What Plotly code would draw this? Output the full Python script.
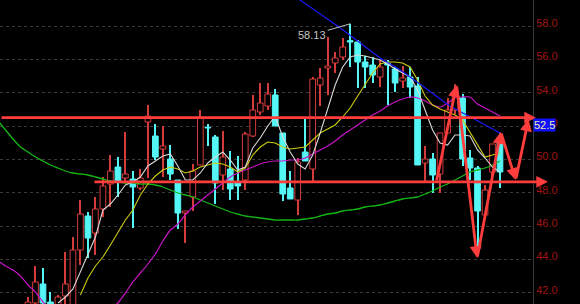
import plotly.graph_objects as go

# ---------------- data ----------------
candle_idx = list(range(64))
opens = [41.2, 41.38, 42.52, 41.44, 41.2, 41.8, 41.2, 44.56, 46.6, 45.58,
         47.02, 48.52, 49.54, 48.88, 48.82, 48.28, 52.24, 51.4, 50.62, 50.02,
         48.76, 46.78, 47.74, 49.66, 51.92, 51.34, 49.06, 49.42, 48.58, 48.76,
         51.4, 52.84, 53.2, 53.86, 51.58, 48.28, 47.56, 50.44, 49.42, 54.46,
         55.48, 55.78, 56.14, 57.12, 57.04, 55.84, 55.66, 54.94, 55.78, 55.42,
         54.7, 54.94, 54.4, 49.78, 50.02, 49.12, 51.58, 52.96, 53.68, 50.08,
         49.48, 46.66, 49.24, 51.04]
highs = [41.74, 43.6, 43.48, 42.04, 41.86, 44.44, 45.34, 47.56, 46.84, 47.74,
         48.94, 50.26, 50.14, 51.64, 49.3, 49.42, 53.26, 52.12, 52.0, 50.86,
         48.76, 46.9, 49.72, 52.96, 52.12, 51.46, 51.7, 50.5, 50.2, 51.64,
         53.86, 54.58, 54.58, 54.22, 51.58, 49.3, 50.08, 52.48, 54.94, 55.48,
         57.34, 56.44, 57.28, 58.13, 57.16, 56.2, 56.14, 55.96, 55.96, 55.54,
         55.6, 55.54, 54.94, 50.8, 50.38, 51.58, 53.68, 54.5, 53.92, 50.56,
         49.6, 48.46, 50.92, 51.58]
lows = [41.02, 41.2, 41.3, 41.1, 41.0, 41.32, 41.0, 43.66, 44.08, 44.26,
        46.54, 47.14, 47.74, 48.7, 45.88, 48.16, 48.88, 49.96, 48.94, 48.76,
        45.82, 44.98, 46.9, 49.66, 50.8, 47.32, 48.16, 47.56, 47.56, 48.16,
        51.34, 52.66, 52.96, 52.0, 47.5, 47.62, 46.66, 49.9, 48.64, 53.2,
        53.86, 55.18, 55.96, 55.54, 54.28, 54.28, 54.58, 54.34, 53.26, 54.04,
        54.28, 53.68, 49.66, 48.64, 47.98, 47.98, 51.58, 52.7, 49.6, 48.76,
        44.56, 46.66, 48.64, 48.28]
closes = [41.44, 42.64, 41.38, 41.26, 41.74, 42.52, 44.56, 46.72, 45.28, 47.02,
          48.4, 49.3, 48.64, 49.12, 48.34, 48.88, 52.6, 50.14, 50.8, 49.12,
          46.78, 46.9, 49.3, 52.54, 51.88, 48.58, 50.14, 48.22, 48.4, 51.52,
          52.96, 53.38, 53.92, 52.0, 47.92, 47.62, 49.84, 49.9, 54.82, 54.88,
          55.6, 56.08, 56.74, 57.04, 55.84, 55.54, 55.06, 55.54, 55.66, 54.58,
          54.88, 54.34, 49.66, 50.02, 49.06, 51.58, 52.96, 54.0, 50.02, 49.48,
          46.9, 48.16, 50.92, 49.24]

ma_white_x = list(range(4, 64))
ma_white = [41.38, 41.74, 42.22, 43.24, 44.26, 45.34, 46.96, 47.32, 47.86, 48.46,
            48.64, 48.94, 49.6, 49.9, 50.2, 50.32, 49.6, 48.76, 48.76, 49.18,
            49.78, 50.14, 50.44, 49.96, 49.36, 49.54, 50.68, 51.28, 52.0, 52.6,
            51.34, 50.44, 49.72, 49.42, 50.26, 51.58, 52.96, 54.46, 55.54, 56.14,
            56.26, 56.2, 56.08, 55.96, 55.72, 55.42, 55.18, 54.94, 54.16, 52.96,
            51.76, 50.98, 50.86, 51.46, 51.46, 51.4, 50.56, 50.08, 49.54, 49.24]

ma_yellow_x = list(range(7, 64))
ma_yellow = [41.86, 42.88, 43.6, 44.14, 44.86, 45.64, 46.36, 46.96, 47.86, 48.52,
             49.0, 49.36, 49.54, 49.42, 49.18, 49.3, 49.54, 49.66, 49.78, 49.72,
             49.54, 49.24, 49.48, 50.26, 50.74, 51.04, 50.98, 50.74, 50.62, 50.68,
             50.74, 51.16, 51.58, 51.82, 52.06, 52.54, 53.08, 53.8, 54.46, 55.18,
             55.72, 55.84, 55.84, 55.78, 55.54, 54.76, 53.8, 53.26, 53.02, 52.84,
             52.66, 52.36, 51.64, 50.86, 50.14, 50.26, 50.38]

ma_magenta_x = [-4, -3, -2, -1, 0, 1, 2, 3, 5, 8, 10] + list(range(12, 64))
ma_magenta = [43.9, 43.6, 43.36, 43.0, 42.46, 42.04, 41.44, 40.96, 40.48, 40.24, 40.6,
              41.38, 41.98, 42.64, 43.18, 43.72, 44.32, 45.1, 45.76, 46.12, 46.66,
              47.14, 47.5, 47.86, 48.22, 48.58, 48.94, 49.18, 49.36, 49.54, 49.72,
              49.84, 49.9, 49.9, 49.96, 49.96, 50.08, 50.32, 50.56, 50.8, 51.1,
              51.46, 51.76, 52.06, 52.36, 52.66, 52.9, 53.2, 53.44, 53.62, 53.74,
              53.68, 53.5, 53.26, 53.14, 53.38, 53.68, 53.74, 53.74, 53.32, 53.08,
              52.84, 52.6]

ma_green_x = list(range(-4, 64))
ma_green = [52.3, 51.76, 51.22, 50.74, 50.44, 50.14, 49.9, 49.66, 49.48, 49.3,
            49.18, 49.12, 49.06, 48.94, 48.82, 48.7, 48.64, 48.58, 48.58, 48.52,
            48.52, 48.46, 48.34, 48.16, 47.98, 47.86, 47.74, 47.56, 47.38, 47.2,
            47.02, 46.84, 46.72, 46.6, 46.54, 46.48, 46.42, 46.36, 46.36, 46.36,
            46.36, 46.42, 46.48, 46.6, 46.72, 46.78, 46.9, 46.96, 47.02, 47.14,
            47.2, 47.26, 47.38, 47.5, 47.62, 47.68, 47.74, 47.92, 48.1, 48.34,
            48.52, 48.76, 49.0, 49.24, 49.36, 49.48, 49.66, 49.9]

trend_x = [36.3, 41.7, 47.0, 49.7, 52.3, 56.3, 60.3, 63.0]
trend_y = [59.56, 57.88, 56.08, 55.36, 54.52, 53.2, 52.24, 51.58]

peak_idx = 43
peak_value = 58.13

level_upper = 52.5
level_lower = 48.65
level_label = "52.5"

# zigzag projection path (candle index, price)
zig_points_x = [54.5, 57.2, 59.95, 63.1, 65.1, 66.8]
zig_points_y = [48.64, 54.46, 44.08, 51.64, 48.76, 52.4]

ytick_vals = [42, 44, 46, 48, 50, 52, 54, 56, 58]
ytick_text = ["42.0", "44.0", "46.0", "48.0", "50.0", "52.0", "54.0", "56.0", "58.0"]

# ---------------- styling ----------------
W, H = 580, 304
AXIS_X = 533
RED = "#ff3d3d"
UP = "#d43c3c"
DOWN = "#54f6f6"
BODY_W = 0.76
WICK_W = 0.14

up_flags = [c >= o for o, c in zip(opens, closes)]
colors = [UP if u else DOWN for u in up_flags]
fills = ["#000000" if u else DOWN for u in up_flags]
body_base = [min(o, c) for o, c in zip(opens, closes)]
body_len = [max(abs(c - o), 0.02) for o, c in zip(opens, closes)]
wick_len = [h - l for h, l in zip(highs, lows)]

fig = go.Figure()
# wicks (drawn first so hollow bodies cover them)
fig.add_trace(go.Bar(x=candle_idx, base=lows, y=wick_len, width=WICK_W,
                     marker=dict(color=colors, line=dict(width=0)),
                     showlegend=False, hoverinfo="skip"))
# bodies
fig.add_trace(go.Bar(x=candle_idx, base=body_base, y=body_len, width=BODY_W,
                     marker=dict(color=fills, line=dict(color=colors, width=1)),
                     showlegend=False, hoverinfo="skip"))

fig.add_trace(go.Scatter(x=ma_green_x, y=ma_green, mode="lines",
                         line=dict(color="#12b812", width=1.3, shape="spline", smoothing=0.6),
                         showlegend=False, hoverinfo="skip"))
fig.add_trace(go.Scatter(x=ma_magenta_x, y=ma_magenta, mode="lines",
                         line=dict(color="#c814c8", width=1.2, shape="spline", smoothing=0.6),
                         showlegend=False, hoverinfo="skip"))
fig.add_trace(go.Scatter(x=ma_yellow_x, y=ma_yellow, mode="lines",
                         line=dict(color="#cccc10", width=1.1),
                         showlegend=False, hoverinfo="skip"))
fig.add_trace(go.Scatter(x=ma_white_x, y=ma_white, mode="lines",
                         line=dict(color="#d8d8d8", width=1.1),
                         showlegend=False, hoverinfo="skip"))
fig.add_trace(go.Scatter(x=trend_x, y=trend_y, mode="lines",
                         line=dict(color="#1a1aff", width=1.1),
                         showlegend=False, hoverinfo="skip"))

annotations = []
# peak label
annotations.append(dict(x=peak_idx, y=peak_value, xref="x", yref="y",
                        text=f"{peak_value:.2f}", showarrow=True, arrowhead=0,
                        arrowcolor="#bdbdbd", arrowwidth=1, ax=-38, ay=11,
                        font=dict(family="Liberation Sans, Arial", size=11, color="#c4c4c4")))
# horizontal levels (arrows ending beyond the axis line)
annotations.append(dict(x=536 / W, y=level_upper, xref="paper", yref="y",
                        text="", showarrow=True, arrowhead=2, arrowsize=0.9,
                        arrowwidth=2.6, arrowcolor=RED, ax=-541, ay=0,
                        axref="pixel", ayref="pixel", standoff=0))
annotations.append(dict(x=548 / W, y=level_lower, xref="paper", yref="y",
                        text="", showarrow=True, arrowhead=2, arrowsize=0.9,
                        arrowwidth=2.6, arrowcolor=RED, ax=-455, ay=0,
                        axref="pixel", ayref="pixel", standoff=0))
# zigzag arrows
for i in range(len(zig_points_x) - 1):
    annotations.append(dict(x=zig_points_x[i + 1], y=zig_points_y[i + 1], xref="x", yref="y",
                            ax=zig_points_x[i], ay=zig_points_y[i], axref="x", ayref="y",
                            text="", showarrow=True, arrowhead=2, arrowsize=0.85,
                            arrowwidth=2.8, arrowcolor=RED, standoff=0))
# price tag of the upper level
annotations.append(dict(x=AXIS_X / W, y=level_upper, xref="paper", yref="y",
                        xanchor="left", yanchor="top", text=level_label, showarrow=False,
                        bgcolor="#1010ff", borderpad=0,
                        font=dict(family="Liberation Sans, Arial", size=11, color="#eeeea0")))

fig.update_layout(
    width=W, height=H, margin=dict(l=0, r=0, t=0, b=0),
    paper_bgcolor="#000000", plot_bgcolor="#000000",
    annotations=annotations, showlegend=False, barmode="overlay",
    xaxis=dict(domain=[0, AXIS_X / W], range=[-28 / 7.492, (AXIS_X - 28) / 7.492],
               showgrid=False, zeroline=False, showticklabels=False, showline=False,
               fixedrange=True),
    yaxis=dict(side="right", range=[41.32, 59.56], tickvals=ytick_vals, ticktext=ytick_text,
               showgrid=True, gridcolor="#3a3a3a", griddash="dot", gridwidth=1,
               zeroline=False, showline=True, linecolor="#3a3a3a", linewidth=1,
               ticks="", ticklabelshift=-3,
               tickfont=dict(family="Liberation Sans, Arial", size=11, color="#a01414"),
               fixedrange=True),
)

fig.write_html("out.html")
